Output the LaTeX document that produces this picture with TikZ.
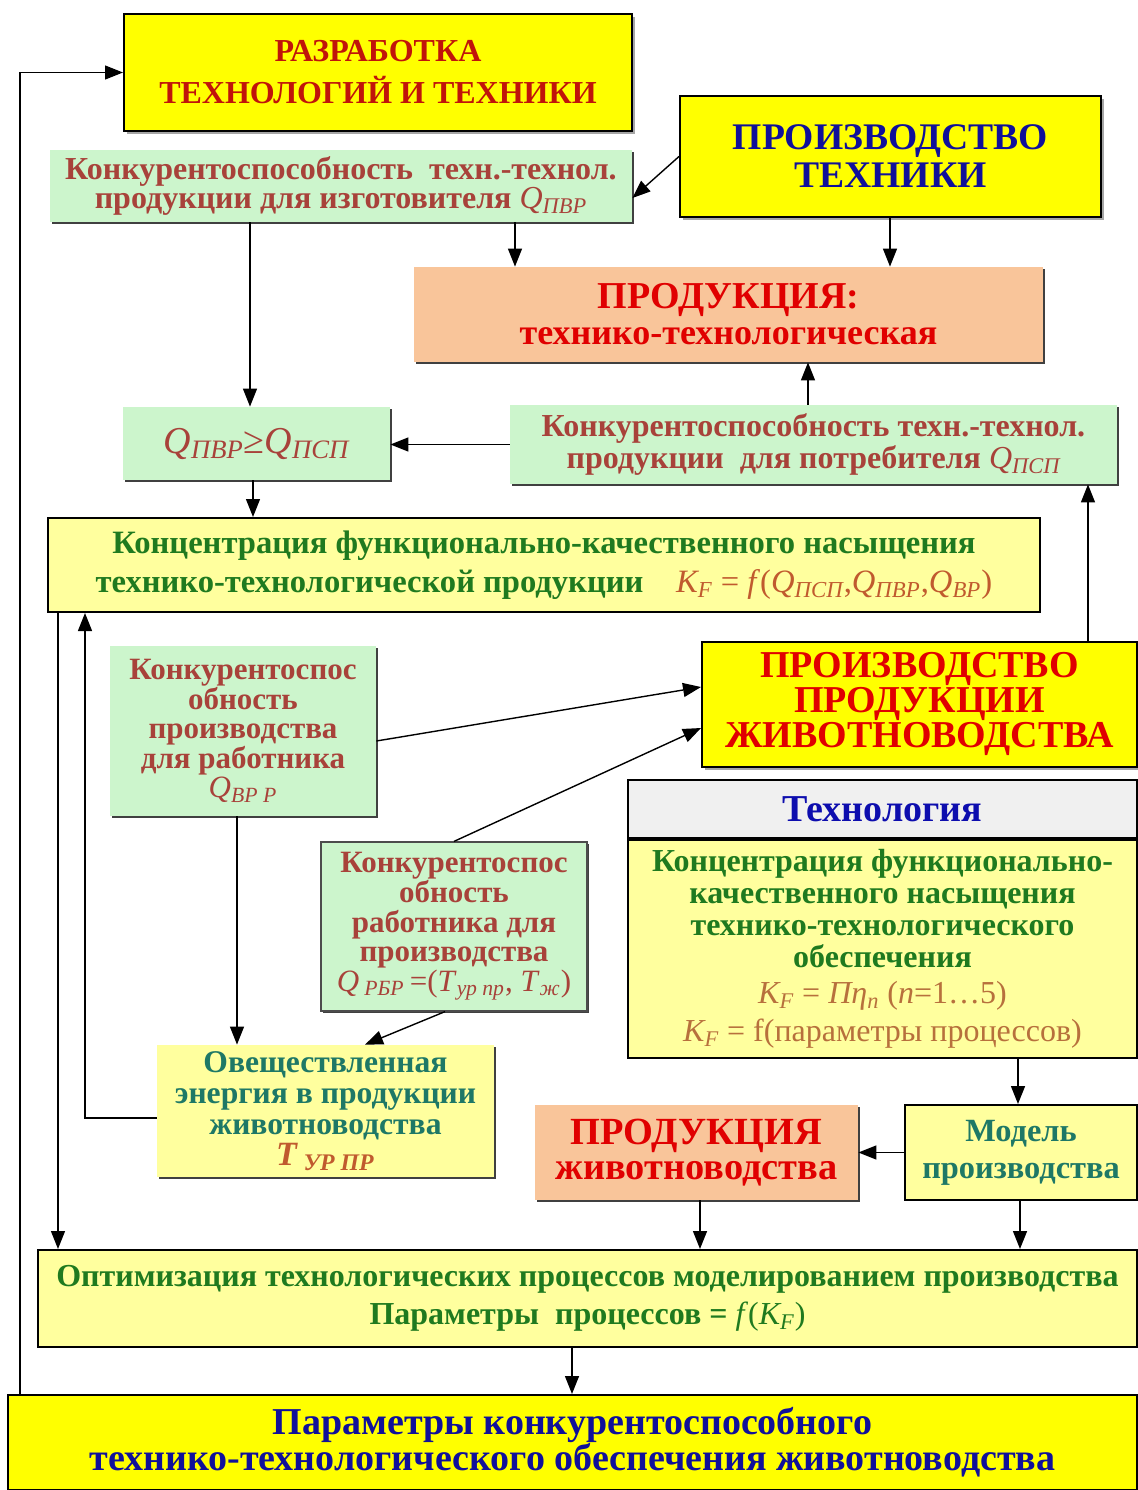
\documentclass[tikz,border=0pt]{standalone}
\usepackage{fontspec}
\setmainfont{Liberation Serif}
\usepackage{tikz}
\usetikzlibrary{arrows.meta,shadows}

\definecolor{yelfill}{HTML}{FFFF00}
\definecolor{lightyel}{HTML}{FFFF9E}
\definecolor{greenfill}{HTML}{CCF5CC}
\definecolor{peach}{HTML}{F9C59A}
\definecolor{txtbrown}{HTML}{A8423A}
\definecolor{txtred}{HTML}{E00000}
\definecolor{txtdarkred}{HTML}{C0140A}
\definecolor{txtblue}{HTML}{10109A}
\definecolor{txtgreen}{HTML}{1F7A1F}
\definecolor{txtteal}{HTML}{1E7866}
\definecolor{txtform}{HTML}{C05A2E}
\definecolor{txtform2}{HTML}{B7703C}

\newcommand{\Qi}[1]{\textit{Q\textsubscript{#1}}}
\newcommand{\KF}{\textit{K\textsubscript{F}}}

\tikzset{
  box/.style={inner sep=0pt, align=center, font=\bfseries},
  yelbox/.style={box, draw=black, line width=1pt, fill=yelfill,
    drop shadow={shadow xshift=1.5pt, shadow yshift=-1.5pt, fill=black!35, opacity=1}},
  lightbox/.style={box, draw=black, line width=1pt, fill=lightyel},
  greenbox/.style={box, fill=greenfill,
    drop shadow={shadow xshift=1pt, shadow yshift=-1pt, fill=black!75, opacity=1}},
  peachbox/.style={box, fill=peach,
    drop shadow={shadow xshift=1pt, shadow yshift=-1pt, fill=black!75, opacity=1}},
  arr/.style={-{Triangle[width=7pt,length=9pt]}, line width=0.7pt}
}

\begin{document}
\begin{tikzpicture}[x=0.5pt,y=-0.5pt]
  \fill[white] (0,0) rectangle (1137,1490);
  \useasboundingbox (0,0) rectangle (1137,1490);

  % boxes
  \node[yelbox, minimum width=254pt, minimum height=58.5pt, text=txtdarkred,
        font=\bfseries\fontsize{16}{21}\selectfont] (razr) at (378,72.5)
        {РАЗРАБОТКА\\ТЕХНОЛОГИЙ И ТЕХНИКИ};
  \node[greenbox, minimum width=291pt, minimum height=36pt, text=txtbrown,
        font=\bfseries\fontsize{16}{14.5}\selectfont] (qpvr) at (341,186)
        {Конкурентоспособность\ \ техн.-технол.\\продукции для изготовителя {\mdseries\Qi{ПВР}}};
  \node[yelbox, minimum width=210.5pt, minimum height=60.5pt, text=txtblue,
        font=\bfseries\fontsize{18.8}{19}\selectfont] (prtech) at (890.5,156.5)
        {ПРОИЗВОДСТВО\\ТЕХНИКИ};
  \node[peachbox, minimum width=314.5pt, minimum height=47.5pt, text=txtred,
        font=\bfseries\fontsize{18}{18}\selectfont] (prodtt) at (728.5,314.5)
        {{\fontsize{19}{19}\selectfont ПРОДУКЦИЯ:}\\технико-технологическая};
  \node[greenbox, minimum width=133.5pt, minimum height=36.5pt, text=txtbrown,
        font=\fontsize{19}{20}\selectfont] (qge) at (256.5,443.5)
        {\Qi{ПВР}≥\Qi{ПСП}};
  \node[greenbox, minimum width=303.5pt, minimum height=39.5pt, text=txtbrown,
        font=\bfseries\fontsize{16}{13.5}\selectfont] (qpsp) at (813.5,444.5)
        {Конкурентоспособность техн.-технол.\\продукции\ \ для потребителя {\mdseries\Qi{ПСП}}};
  \node[lightbox, minimum width=496pt, minimum height=47pt, text=txtgreen,
        font=\bfseries\fontsize{16.3}{19.5}\selectfont] (kconc) at (544,565)
        {Концентрация функционально-качественного насыщения\\
         технико-технологической продукции\quad
         {\mdseries\color{txtform}\KF{} = \textit{f}(\Qi{ПСП},\Qi{ПВР},\Qi{ВР})}};
  \node[greenbox, minimum width=133pt, minimum height=85pt, text=txtbrown,
        font=\bfseries\fontsize{15.5}{14.8}\selectfont] (qvrr) at (243,731)
        {Конкурентоспос\\обность\\производства\\для работника\\{\mdseries\Qi{ВР Р}}};
  \node[yelbox, minimum width=217.5pt, minimum height=62.5pt, text=txtred,
        font=\bfseries\fontsize{19}{17.5}\selectfont] (ppzh) at (919.5,704)
        {ПРОИЗВОДСТВО\\ПРОДУКЦИИ\\ЖИВОТНОВОДСТВА};
  \node[box, draw=black, line width=1pt, fill=gray!12, minimum width=254.5pt,
        minimum height=29pt, text=txtblue!80!blue,
        font=\bfseries\fontsize{19}{19}\selectfont] (techhead) at (882.5,809)
        {Технология};
  \node[lightbox, minimum width=254.5pt, minimum height=109pt, text=txtgreen,
        font=\bfseries\fontsize{16}{16}\selectfont] (techbody) at (882.5,949)
        {Концентрация функционально-\\качественного насыщения\\
         технико-технологического\\обеспечения\\[2pt]
         {\mdseries\color{txtform2}\KF{} = \textit{Πη\textsubscript{n}} (\textit{n}=1…5)}\\[3pt]
         {\mdseries\color{txtform2}\KF{} = f(параметры процессов)}};
  \node[greenbox, draw=black!70, line width=0.6pt, minimum width=133pt,
        minimum height=84.5pt, text=txtbrown,
        font=\bfseries\fontsize{15.5}{14.8}\selectfont] (qrbr) at (454,926.5)
        {Конкурентоспос\\обность\\работника для\\производства\\
         {\mdseries\textit{Q}\,\textit{\textsubscript{РБР}}\,=(\textit{T}\textsubscript{\textit{ур пр}}, \textit{T}\textsubscript{\textit{ж}})}};
  \node[box, fill=lightyel, minimum width=168.5pt, minimum height=66pt, text=txtteal,
        drop shadow={shadow xshift=1pt, shadow yshift=-1pt, fill=black!75, opacity=1},
        font=\bfseries\fontsize{15.8}{15.5}\selectfont] (energy) at (325.5,1111)
        {Овеществленная\\энергия в продукции\\животноводства\\
         {\color{txtform}\fontsize{17}{17}\selectfont\textit{T}\,\textsubscript{\textit{УР ПР}}}};
  \node[peachbox, minimum width=161.5pt, minimum height=47.5pt, text=txtred,
        font=\bfseries\fontsize{19.2}{17.5}\selectfont] (prodzh) at (696.5,1152.5)
        {ПРОДУКЦИЯ\\животноводства};
  \node[lightbox, minimum width=116pt, minimum height=47.5pt, text=txtteal,
        font=\bfseries\fontsize{16.2}{18.5}\selectfont] (model) at (1021,1152.5)
        {Модель\\производства};
  \node[lightbox, minimum width=549.5pt, minimum height=48.5pt, text=txtgreen,
        font=\bfseries\fontsize{16}{19}\selectfont] (optim) at (587.5,1298.5)
        {Оптимизация технологических процессов моделированием производства\\
         Параметры\ \ процессов = {\mdseries\textit{f}(\KF)}};
  \node[box, draw=black, line width=1pt, fill=yelfill, minimum width=564.5pt,
        minimum height=47.5pt, text=txtblue,
        font=\bfseries\fontsize{19}{18}\selectfont] (result) at (572.5,1442.5)
        {Параметры конкурентоспособного\\технико-технологического обеспечения животноводства};

  % arrows
  \foreach \xx in {20,58,85,237,250,253,365,445,515,572,700,808,890,1018,1020,1088}
    \coordinate (x\xx) at (\xx,0);
  \draw[arr] (result.north -| x20) |- (razr.west);
  \draw[arr] (prtech.west) -- ([yshift=-6pt]qpvr.east);
  \draw[arr] (qpvr.south -| x250) -- (qge.north -| x250);
  \draw[arr] (qpvr.south -| x515) -- (prodtt.north -| x515);
  \draw[arr] (prtech.south -| x890) -- (prodtt.north -| x890);
  \draw[arr] (qpsp.north -| x808) -- (prodtt.south -| x808);
  \draw[arr] (qpsp.west) -- (qge.east |- qpsp.west);
  \draw[arr] (qge.south -| x253) -- (kconc.north -| x253);
  \draw[arr] (ppzh.north -| x1088) -- (qpsp.south -| x1088);
  \draw[arr] ([yshift=-3.5pt]energy.west) -| (kconc.south -| x85);
  \draw[arr] (kconc.south -| x58) -- (optim.north -| x58);
  \draw[arr] ([yshift=-5pt]qvrr.east) -- ([yshift=8.5pt]ppzh.west);
  \draw[arr] (qrbr.north) -- ([yshift=-12pt]ppzh.west);
  \draw[arr] (qvrr.south -| x237) -- (energy.north -| x237);
  \draw[arr] (qrbr.south -| x445) -- (energy.north -| x365);
  \draw[arr] (techbody.south -| x1018) -- (model.north -| x1018);
  \draw[arr] (model.west) -- (prodzh.east);
  \draw[arr] (prodzh.south -| x700) -- (optim.north -| x700);
  \draw[arr] (model.south -| x1020) -- (optim.north -| x1020);
  \draw[arr] (optim.south -| x572) -- (result.north -| x572);
\end{tikzpicture}
\end{document}
